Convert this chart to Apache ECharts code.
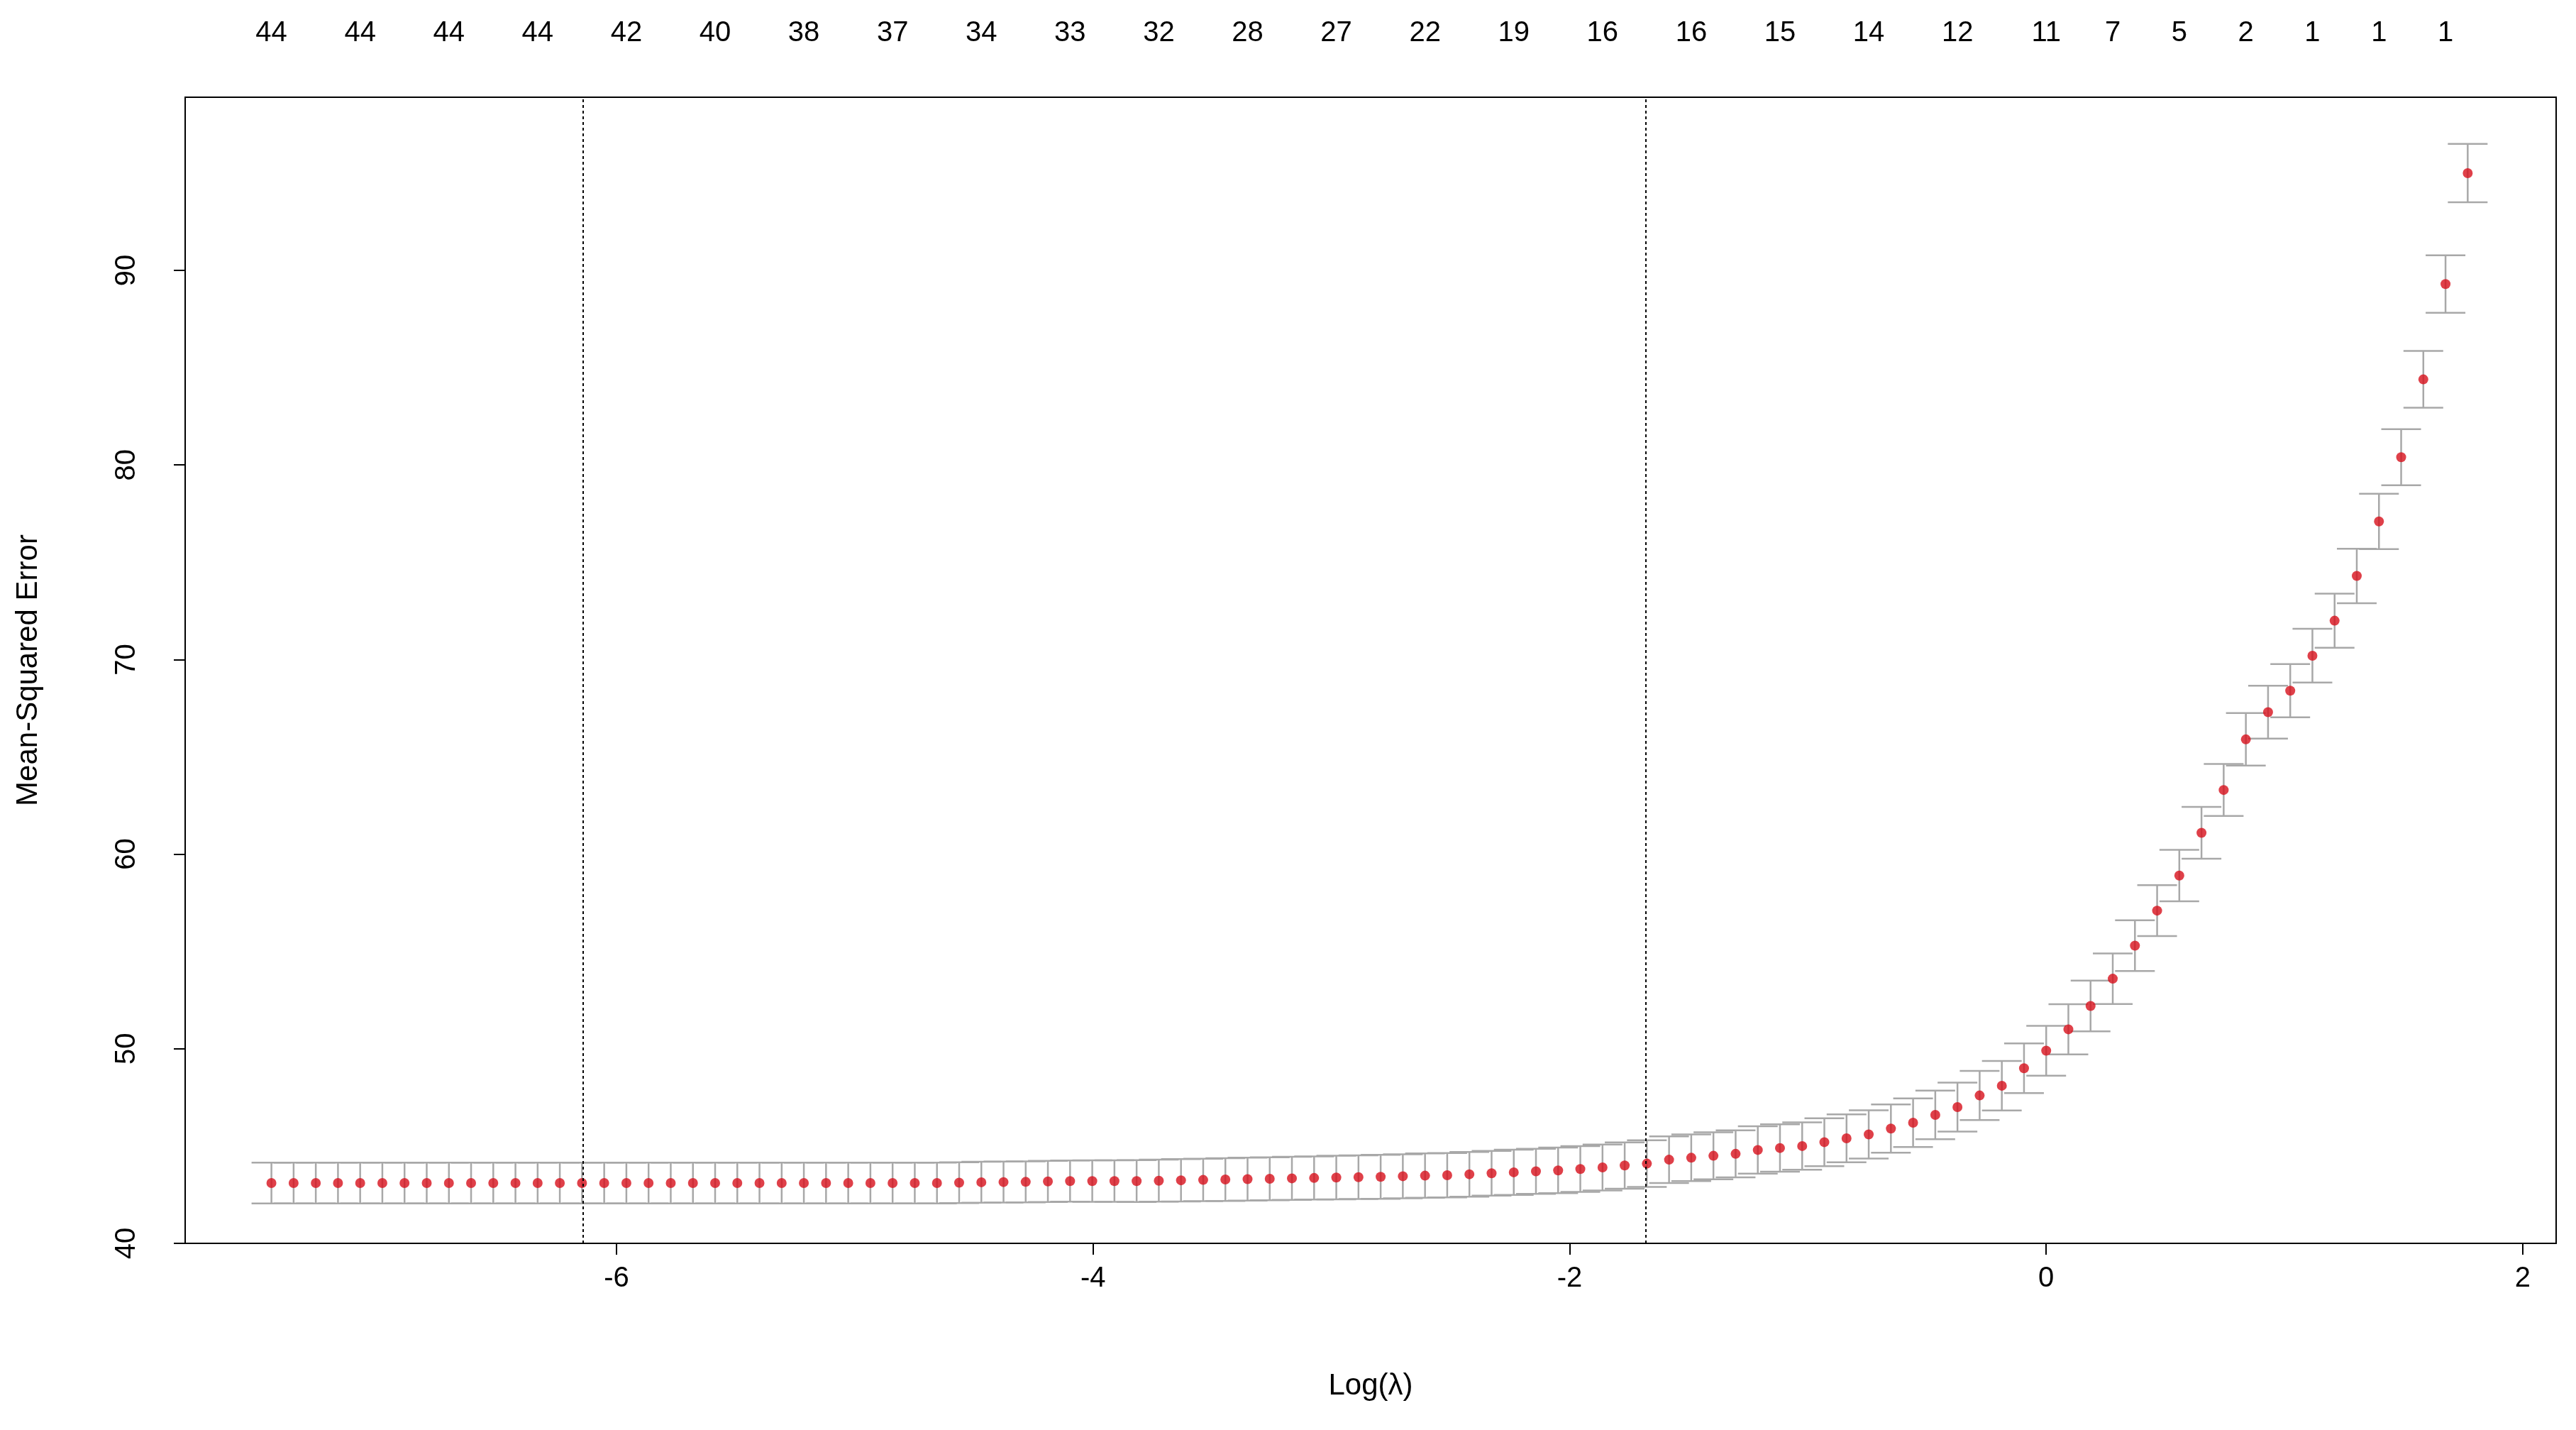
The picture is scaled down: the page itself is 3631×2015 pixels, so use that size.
<!DOCTYPE html>
<html>
<head>
<meta charset="utf-8">
<script src="https://cdn.jsdelivr.net/npm/echarts@6/dist/echarts.min.js"></script>
<style>html,body{margin:0;background:#fff}#c{width:3631px;height:2015px}</style>
</head>
<body>
<div id="c"></div>
<script>
// log(lambda) path: first value and step between the 100 lambdas
const logLambdaStart = -7.448
const logLambdaStep = 0.0931

const mse = [
  43.1, 43.1, 43.1, 43.1, 43.1, 43.1, 43.1, 43.1, 43.1, 43.1,
  43.1, 43.1, 43.1, 43.1, 43.1, 43.1, 43.1, 43.1, 43.1, 43.1,
  43.1, 43.1, 43.1, 43.1, 43.1, 43.1, 43.1, 43.1, 43.1, 43.1,
  43.1, 43.12, 43.14, 43.15, 43.16, 43.18, 43.2, 43.2, 43.2, 43.2,
  43.22, 43.24, 43.26, 43.28, 43.3, 43.32, 43.34, 43.36, 43.38, 43.4,
  43.42, 43.45, 43.48, 43.5, 43.55, 43.6, 43.65, 43.7, 43.75, 43.82,
  43.9, 44.0, 44.1, 44.3, 44.4, 44.5, 44.6, 44.8, 44.9, 45.0,
  45.2, 45.4, 45.6, 45.9, 46.2, 46.6, 47.0, 47.6, 48.1, 49.0,
  49.9, 51.0, 52.2, 53.6, 55.3, 57.1, 58.9, 61.1, 63.3, 65.9,
  67.3, 68.4, 70.2, 72.0, 74.3, 77.1, 80.4, 84.4, 89.3, 95.0
]

const se = [
  1.05, 1.05, 1.05, 1.05, 1.05, 1.05, 1.05, 1.05, 1.05, 1.05,
  1.05, 1.05, 1.05, 1.05, 1.05, 1.05, 1.05, 1.05, 1.05, 1.05,
  1.05, 1.05, 1.05, 1.05, 1.05, 1.05, 1.05, 1.05, 1.05, 1.05,
  1.05, 1.05, 1.05, 1.05, 1.05, 1.06, 1.06, 1.07, 1.07, 1.08,
  1.08, 1.09, 1.09, 1.1, 1.1, 1.1, 1.11, 1.11, 1.12, 1.12,
  1.13, 1.13, 1.14, 1.14, 1.15, 1.15, 1.16, 1.16, 1.17, 1.18,
  1.18, 1.19, 1.2, 1.2, 1.2, 1.21, 1.21, 1.22, 1.22, 1.22,
  1.23, 1.23, 1.24, 1.24, 1.25, 1.25, 1.26, 1.26, 1.27, 1.28,
  1.28, 1.29, 1.3, 1.3, 1.3, 1.31, 1.32, 1.33, 1.34, 1.35,
  1.36, 1.37, 1.38, 1.39, 1.4, 1.42, 1.44, 1.46, 1.48, 1.5
]

// number of nonzero coefficients shown along the top
const topIndex = [0, 4, 8, 12, 16, 20, 24, 28, 32, 36, 40, 44, 48, 52, 56, 60, 64, 68, 72, 76, 80, 83, 86, 89, 92, 95, 98]
const topCounts = [44, 44, 44, 44, 42, 40, 38, 37, 34, 33, 32, 28, 27, 22, 19, 16, 16, 15, 14, 12, 11, 7, 5, 2, 1, 1, 1]

const lambdaMin = -6.14
const lambda1se = -1.676

const xOf = i => logLambdaStart + i * logLambdaStep
const points = mse.map((v, i) => [xOf(i), v])
const bars = mse.map((v, i) => [xOf(i), v - se[i], v + se[i]])
const topPos = topIndex.map(xOf)

const chart = echarts.init(document.getElementById('c'))
const fontBase = { fontFamily: 'Liberation Sans, Arial', color: '#000' }

chart.setOption({
  backgroundColor: '#fff',
  animation: false,
  grid: { left: 261, right: 28, top: 137, bottom: 263, show: true, borderColor: '#000', borderWidth: 2 },
  xAxis: [{
    type: 'value', min: -7.81, max: 2.14, position: 'bottom',
    axisLine: { show: false, onZero: false },
    splitLine: { show: false },
    axisTick: { show: true, length: 16, lineStyle: { color: '#000', width: 2 }, customValues: [-6, -4, -2, 0, 2] },
    axisLabel: { ...fontBase, fontSize: 40, margin: 30, customValues: [-6, -4, -2, 0, 2] },
    name: 'Log(λ)', nameLocation: 'middle', nameGap: 180,
    nameTextStyle: { ...fontBase, fontSize: 42 }
  }, {
    type: 'value', min: -7.81, max: 2.14, position: 'top',
    axisLine: { show: false, onZero: false }, splitLine: { show: false },
    axisTick: { show: false },
    axisLabel: {
      ...fontBase, fontSize: 40, margin: 70, customValues: topPos,
      formatter: v => {
        let best = 0
        topPos.forEach((p, k) => { if (Math.abs(p - v) < Math.abs(topPos[best] - v)) best = k })
        return String(topCounts[best])
      }
    }
  }],
  yAxis: {
    type: 'value', min: 40, max: 98.9, interval: 10,
    axisLine: { show: false, onZero: false }, splitLine: { show: false },
    axisTick: { show: true, length: 16, lineStyle: { color: '#000', width: 2 }, customValues: [40, 50, 60, 70, 80, 90] },
    axisLabel: { ...fontBase, fontSize: 40, rotate: 90, margin: 62, customValues: [40, 50, 60, 70, 80, 90] },
    name: 'Mean-Squared Error', nameLocation: 'middle', nameGap: 200,
    nameTextStyle: { ...fontBase, fontSize: 42 }
  },
  series: [{
    type: 'custom',
    data: bars,
    renderItem: (params, api) => {
      const lo = api.coord([api.value(0), api.value(1)])
      const hi = api.coord([api.value(0), api.value(2)])
      const w = 28
      const style = { stroke: '#a8a8a8', lineWidth: 2.5 }
      return {
        type: 'group',
        children: [
          { type: 'line', shape: { x1: lo[0], y1: lo[1], x2: hi[0], y2: hi[1] }, style },
          { type: 'line', shape: { x1: lo[0] - w, y1: lo[1], x2: lo[0] + w, y2: lo[1] }, style },
          { type: 'line', shape: { x1: hi[0] - w, y1: hi[1], x2: hi[0] + w, y2: hi[1] }, style }
        ]
      }
    },
    z: 1
  }, {
    type: 'scatter',
    data: points,
    symbolSize: 14,
    itemStyle: { color: '#d7101c' },
    z: 3,
    markLine: {
      silent: true, symbol: 'none', label: { show: false },
      lineStyle: { color: '#000', type: [4, 4], width: 2 },
      data: [{ xAxis: lambdaMin }, { xAxis: lambda1se }]
    }
  }]
})
</script>
</body>
</html>
